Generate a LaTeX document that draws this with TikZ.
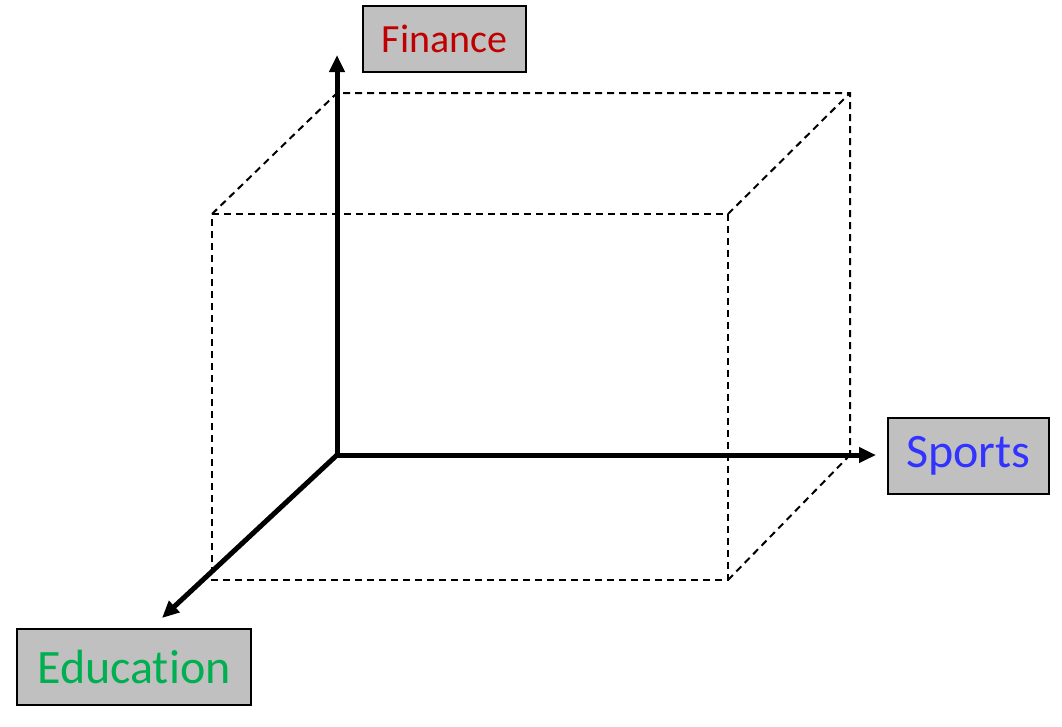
\documentclass[tikz,border=0pt]{standalone}
\usepackage{fontspec}
\setmainfont{Carlito}[Ligatures=NoCommon]
\usetikzlibrary{arrows.meta}
\definecolor{boxgray}{HTML}{C0C0C0}
\definecolor{finred}{HTML}{C00000}
\definecolor{spblue}{HTML}{3333FF}
\definecolor{edgreen}{HTML}{00B050}
\begin{document}
\begin{tikzpicture}[x=1pt,y=-1pt,
  axis/.style={line width=5pt,-{Triangle[length=17pt,width=15pt]}},
  cube/.style={line width=2pt,dash pattern=on 7pt off 5pt},
  label/.style={draw=black,line width=2pt,fill=boxgray,inner sep=0pt,anchor=north west}]
\useasboundingbox (0,0) rectangle (1062,726);
% dashed box
\coordinate (f1) at (212,214);
\coordinate (f2) at (728,214);
\coordinate (f3) at (728,580);
\coordinate (f4) at (212,580);
\coordinate (b1) at (337,93);
\coordinate (b2) at (850,93);
\coordinate (b3) at (850,455);
\draw[cube] (f1) -- (f2) -- (f3) -- (f4) -- cycle;
\draw[cube] (f1) -- (b1) -- (b2) -- (b3);
\draw[cube] (f2) -- (b2);
\draw[cube] (f3) -- (b3);
% axes
\coordinate (o) at (337,455);
\coordinate (fy) at (337,55);
\coordinate (sx) at (876,455);
\coordinate (ez) at (162,618);
\draw[axis] (o) -- (fy);
\draw[axis] (o) -- (sx);
\draw[axis] (o) -- (ez);
% labels
\node[label,minimum width=163pt,minimum height=66pt] (fin) at (362,5) {};
\node[text=finred,font=\fontsize{40pt}{44pt}\selectfont] (fint) at (fin.center) {Finance};
\node[label,minimum width=161pt,minimum height=76pt] (sp) at (887,417) {};
\node[text=spblue,font=\fontsize{48pt}{52pt}\selectfont] (spt) at (sp.center) {Sports};
\node[label,minimum width=234pt,minimum height=76pt] (ed) at (16,628) {};
\node[text=edgreen,font=\fontsize{48pt}{52pt}\selectfont] (edt) at (ed.center) {Education};
\end{tikzpicture}
\end{document}
